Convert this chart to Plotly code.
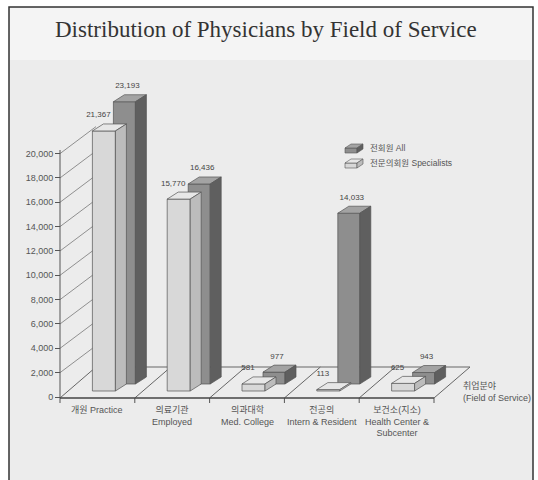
import plotly.graph_objects as go

# ---------------- data ----------------
category_labels = [
    "개원 Practice",
    "의료기관<br>Employed",
    "의과대학<br>Med. College",
    "전공의<br>Intern & Resident",
    "보건소(지소)<br>Health Center &<br>Subcenter",
]
all_members = [23193, 16436, 977, 14033, 943]          # 전회원 All
specialists = [21367, 15770, 581, 113, 625]            # 전문의회원 Specialists
y_ticks = list(range(0, 20001, 2000))
series_names = ["전회원 All", "전문의회원 Specialists"]
title_text = "Distribution of Physicians by Field of Service"
axis_title = "취업분야<br>(Field of Service)"

# ---------------- layout constants (pixels) ----------------
W, H = 538, 480
Y0PX = 397.0                 # pixel row of value 0
K = 243.4 / 20000            # pixels per unit value


def vy(py):
    """pixel row -> value coordinate"""
    return (Y0PX - py) / K


def dv(dpx):
    """pixel height -> value height"""
    return dpx / K


AX_X = 60
STEP = 74.8
N = len(category_labels)
FLOOR_FRONT = 398
FLOOR_BACK = 367
FLOOR_DX = 36
WALL_DX, WALL_DY = 36, 27

LIGHT_OFF, LIGHT_W, LIGHT_BASE, LIGHT_LAB = -5, 23, 391, -5.5
DARK_OFF, DARK_W, DARK_BASE, DARK_LAB = 16, 22, 384, 3
BDX, BDY = 11, 7             # bar depth in px

TXT = "#555555"
FONT = "Liberation Sans, Arial, Noto Sans CJK KR, sans-serif"

fig = go.Figure()


def line(xs, ys, color="#555", width=1.0):
    fig.add_trace(go.Scatter(x=xs, y=ys, mode="lines", line=dict(color=color, width=width),
                             hoverinfo="skip", showlegend=False, cliponaxis=False))


# wall grid lines (diagonal from each y tick)
for v in y_ticks[1:]:
    line([AX_X, AX_X + WALL_DX], [v, v + dv(WALL_DY)], "#777", 0.8)

# floor
line([AX_X, AX_X + FLOOR_DX], [vy(FLOOR_FRONT), vy(FLOOR_BACK)], "#666", 1)
line([AX_X + FLOOR_DX, AX_X + STEP * N + FLOOR_DX], [vy(FLOOR_BACK), vy(FLOOR_BACK)], "#666", 1)
for i in range(1, N + 1):
    x = AX_X + STEP * i
    line([x, x + FLOOR_DX], [vy(FLOOR_FRONT), vy(FLOOR_BACK)], "#666", 1)
for i in range(0, N + 1):
    x = AX_X + STEP * i
    line([x, x], [vy(FLOOR_FRONT), vy(FLOOR_FRONT + 5)], "#555", 1)
line([AX_X, AX_X + STEP * N], [vy(FLOOR_FRONT), vy(FLOOR_FRONT)], "#444", 1.6)
# y axis line
line([AX_X, AX_X], [vy(FLOOR_FRONT), vy(150)], "#555", 1)


def boxes(values, off, w, base_px, lab_off):
    fx, fy, tx, ty, sx, sy = [], [], [], [], [], []
    lab_x, lab_y = [], []
    for i, val in enumerate(values):
        cx = AX_X + STEP * (i + 0.5)
        l = cx + off
        b = vy(base_px)
        t = b + val
        d = dv(BDY)
        fx += [l, l + w, l + w, l, l, None]
        fy += [b, b, t, t, b, None]
        tx += [l, l + w, l + w + BDX, l + BDX, l, None]
        ty += [t, t, t + d, t + d, t, None]
        sx += [l + w, l + w + BDX, l + w + BDX, l + w, l + w, None]
        sy += [b, b + d, t + d, t, b, None]
        lab_x.append(l + w / 2 + lab_off)
        lab_y.append(t + d + dv(8.5))
    return (fx, fy), (tx, ty), (sx, sy), (lab_x, lab_y)


def draw(values, off, w, base_px, lab_off, cols, name):
    faces = boxes(values, off, w, base_px, lab_off)
    for (xs, ys), c in zip(faces[:3], cols):
        fig.add_trace(go.Scatter(x=xs, y=ys, mode="lines", fill="toself", fillcolor=c,
                                 line=dict(color="#555", width=0.7), name=name,
                                 hoverinfo="skip", showlegend=False, cliponaxis=False))
    return faces[3]


dark_cols = ["#8e8e8e", "#a3a3a3", "#5f5f5f"]
light_cols = ["#d8d8d8", "#e7e7e7", "#bcbcbc"]
lab_dark = draw(all_members, DARK_OFF, DARK_W, DARK_BASE, DARK_LAB, dark_cols, series_names[0])
lab_light = draw(specialists, LIGHT_OFF, LIGHT_W, LIGHT_BASE, LIGHT_LAB, light_cols, series_names[1])

for (lx, ly), vals in ((lab_dark, all_members), (lab_light, specialists)):
    fig.add_trace(go.Scatter(x=lx, y=ly, mode="text", text=[f"{v:,}" for v in vals],
                             textfont=dict(family=FONT, size=8, color="#444"),
                             textposition="middle center", hoverinfo="skip",
                             showlegend=False, cliponaxis=False))

# legend (custom 3-D icons)
for (ybase, cols, label) in ((153, dark_cols, series_names[0]), (168, light_cols, series_names[1])):
    l, w, hgt, ddx, ddy = 345, 12, 5, 6, 4
    b, t = vy(ybase), vy(ybase - hgt)
    polys = [
        ([l, l + w, l + w, l, l], [b, b, t, t, b]),
        ([l, l + w, l + w + ddx, l + ddx, l], [t, t, t + dv(ddy), t + dv(ddy), t]),
        ([l + w, l + w + ddx, l + w + ddx, l + w, l + w], [b, b + dv(ddy), t + dv(ddy), t, b]),
    ]
    for (xs, ys), c in zip(polys, cols):
        fig.add_trace(go.Scatter(x=xs, y=ys, mode="lines", fill="toself", fillcolor=c,
                                 line=dict(color="#555", width=0.6), hoverinfo="skip",
                                 showlegend=False, cliponaxis=False))
    fig.add_annotation(x=368, y=vy(ybase - 5), text=label, showarrow=False, xanchor="left",
                       yanchor="middle", font=dict(family=FONT, size=8.5, color=TXT))

# category labels
for i, lab in enumerate(category_labels):
    fig.add_annotation(x=AX_X + STEP * (i + 0.5), y=vy(403), text=lab, showarrow=False,
                       xanchor="center", yanchor="top", align="center",
                       font=dict(family=FONT, size=9, color=TXT))

fig.add_annotation(x=461, y=vy(379), text=axis_title, showarrow=False, xanchor="left",
                   yanchor="top", align="left", font=dict(family=FONT, size=9, color=TXT))

fig.add_annotation(x=266, y=vy(29), text=title_text, showarrow=False, xanchor="center",
                   yanchor="middle",
                   font=dict(family="Liberation Serif, Times New Roman, serif", size=23, color="#333"))

# frame and background bands
fig.add_shape(type="rect", xref="paper", yref="paper", x0=9 / W, x1=533 / W, y0=-0.05,
              y1=1 - 7 / H, line=dict(color="#333", width=1.5), fillcolor="#ececec", layer="below")
fig.add_shape(type="rect", xref="paper", yref="paper", x0=10 / W, x1=532 / W, y0=1 - 60 / H,
              y1=1 - 8 / H, line=dict(width=0), fillcolor="#f4f4f4", layer="below")

fig.update_layout(
    template="none",
    width=W, height=H,
    margin=dict(l=0, r=0, t=0, b=0),
    paper_bgcolor="white", plot_bgcolor="rgba(0,0,0,0)",
    showlegend=False,
    xaxis=dict(range=[0, W], visible=False, fixedrange=True),
    yaxis=dict(range=[vy(H), vy(0)], anchor="free", position=AX_X / W,
               tickmode="array", tickvals=y_ticks, ticktext=[f"{v:,}" for v in y_ticks],
               ticks="outside", ticklen=5, tickcolor="#555", tickwidth=1,
               showline=False, showgrid=False, zeroline=False, automargin=False,
               tickfont=dict(family=FONT, size=9, color=TXT), fixedrange=True),
)

fig.write_html("out.html")
